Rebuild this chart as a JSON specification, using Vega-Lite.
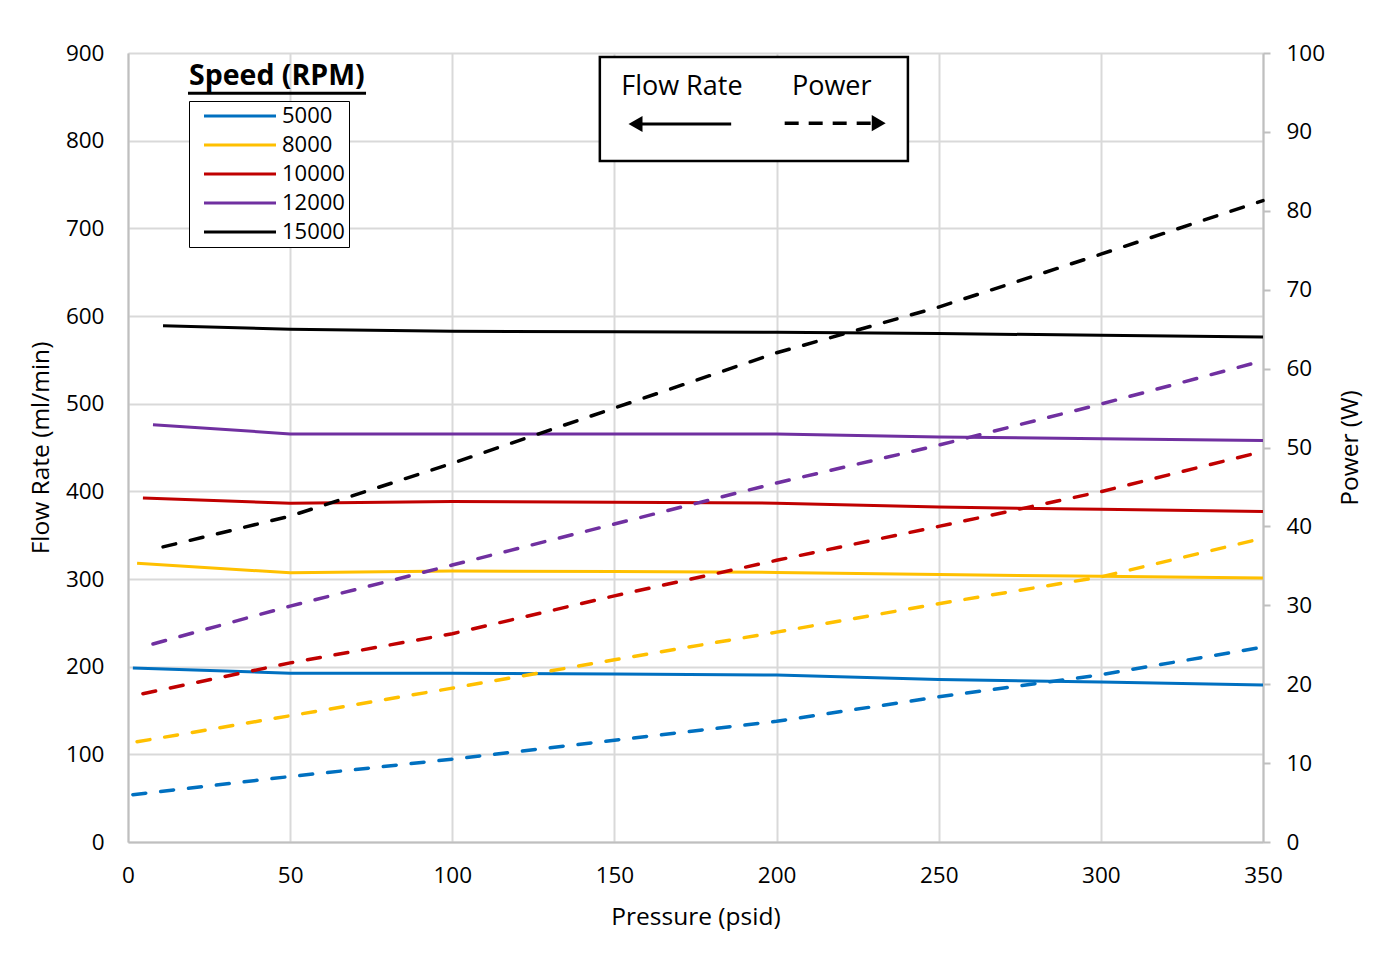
{
  "$schema": "https://vega.github.io/schema/vega-lite/v6.json",
  "width": 1135,
  "height": 789,
  "autosize": {"type": "none"},
  "padding": {"left": 128, "top": 53, "right": 121, "bottom": 112},
  "background": "white",
  "config": {
    "font": "Open Sans",
    "view": {"stroke": null},
    "axis": {
      "labelFont": "Open Sans",
      "titleFont": "Open Sans",
      "labelFontSize": 22.5,
      "titleFontSize": 24.5,
      "titleFontWeight": "normal",
      "labelColor": "#000000",
      "titleColor": "#000000",
      "domainColor": "#BFBFBF",
      "domainWidth": 2,
      "gridColor": "#D9D9D9",
      "gridWidth": 2,
      "labelFlush": false,
      "labelOverlap": false
    }
  },
  "datasets": {
    "perf": [
      {"speed": "5000", "pressure": 1.5, "flow": 198.5, "power": 6.0},
      {"speed": "5000", "pressure": 50, "flow": 192.5, "power": 8.3},
      {"speed": "5000", "pressure": 100, "flow": 192.5, "power": 10.5},
      {"speed": "5000", "pressure": 150, "flow": 191.5, "power": 12.9},
      {"speed": "5000", "pressure": 200, "flow": 190.5, "power": 15.3},
      {"speed": "5000", "pressure": 250, "flow": 185.5, "power": 18.4},
      {"speed": "5000", "pressure": 300, "flow": 182.5, "power": 21.2},
      {"speed": "5000", "pressure": 350, "flow": 179, "power": 24.7},
      {"speed": "8000", "pressure": 2.8, "flow": 318, "power": 12.7},
      {"speed": "8000", "pressure": 50, "flow": 307, "power": 16.0},
      {"speed": "8000", "pressure": 100, "flow": 309, "power": 19.5},
      {"speed": "8000", "pressure": 150, "flow": 308.5, "power": 23.1},
      {"speed": "8000", "pressure": 200, "flow": 307.5, "power": 26.6},
      {"speed": "8000", "pressure": 250, "flow": 305, "power": 30.2},
      {"speed": "8000", "pressure": 300, "flow": 303, "power": 33.6},
      {"speed": "8000", "pressure": 350, "flow": 301, "power": 38.5},
      {"speed": "10000", "pressure": 4.6, "flow": 392.5, "power": 18.8},
      {"speed": "10000", "pressure": 50, "flow": 386.5, "power": 22.7},
      {"speed": "10000", "pressure": 100, "flow": 388.5, "power": 26.4},
      {"speed": "10000", "pressure": 150, "flow": 387.5, "power": 31.2},
      {"speed": "10000", "pressure": 200, "flow": 386.5, "power": 35.7},
      {"speed": "10000", "pressure": 250, "flow": 382, "power": 40.0},
      {"speed": "10000", "pressure": 300, "flow": 379.5, "power": 44.4},
      {"speed": "10000", "pressure": 350, "flow": 377, "power": 49.5},
      {"speed": "12000", "pressure": 7.7, "flow": 476, "power": 25.1},
      {"speed": "12000", "pressure": 50, "flow": 465.5, "power": 29.9},
      {"speed": "12000", "pressure": 100, "flow": 465.5, "power": 35.1},
      {"speed": "12000", "pressure": 150, "flow": 465.5, "power": 40.3},
      {"speed": "12000", "pressure": 200, "flow": 465.5, "power": 45.5},
      {"speed": "12000", "pressure": 250, "flow": 462, "power": 50.3},
      {"speed": "12000", "pressure": 300, "flow": 460, "power": 55.5},
      {"speed": "12000", "pressure": 350, "flow": 458, "power": 61.0},
      {"speed": "15000", "pressure": 10.8, "flow": 589, "power": 37.4},
      {"speed": "15000", "pressure": 50, "flow": 585, "power": 41.3},
      {"speed": "15000", "pressure": 100, "flow": 582.5, "power": 48.0},
      {"speed": "15000", "pressure": 150, "flow": 582, "power": 55.0},
      {"speed": "15000", "pressure": 200, "flow": 581.5, "power": 62.0},
      {"speed": "15000", "pressure": 250, "flow": 580, "power": 67.8},
      {"speed": "15000", "pressure": 300, "flow": 578, "power": 74.5},
      {"speed": "15000", "pressure": 350, "flow": 576, "power": 81.3}
    ],
    "box": [
      {"pressure": 145.5, "pressure2": 240.5, "flow": 895.4, "flow2": 776.8}
    ],
    "texts": [
      {"label": "Flow Rate", "pressure": 170.8, "flow": 861, "kind": "plain"},
      {"label": "Power", "pressure": 217, "flow": 861, "kind": "plain"},
      {"label": "Speed (RPM)", "pressure": 45.9, "flow": 874, "kind": "bold"}
    ],
    "arrows": [
      {"pressure": 157, "pressure2": 186, "flow": 819, "kind": "flow"},
      {"pressure": 202.5, "pressure2": 230, "flow": 820, "kind": "power"},
      {"pressure": 18.5, "pressure2": 73.4, "flow": 854, "kind": "underline"}
    ],
    "heads": [
      {"pressure": 156.5, "flow": 819, "dir": "left"},
      {"pressure": 231.5, "flow": 820, "dir": "right"}
    ]
  },
  "layer": [
    {
      "layer": [
        {
          "data": {"name": "perf"},
          "mark": {"type": "line", "strokeWidth": 3},
          "encoding": {
            "x": {
              "field": "pressure", "type": "quantitative",
              "scale": {"domain": [0, 350], "nice": false},
              "axis": {"title": "Pressure (psid)", "values": [0, 50, 100, 150, 200, 250, 300, 350], "ticks": false, "labelPadding": 22, "titlePadding": 19, "grid": true}
            },
            "y": {
              "field": "flow", "type": "quantitative",
              "scale": {"domain": [0, 900], "nice": false},
              "axis": {"title": "Flow Rate (ml/min)", "values": [0, 100, 200, 300, 400, 500, 600, 700, 800, 900], "ticks": false, "labelPadding": 24, "titlePadding": 12, "grid": true}
            },
            "color": {
              "field": "speed", "type": "nominal",
              "sort": ["5000", "8000", "10000", "12000", "15000"],
              "scale": {"domain": ["5000", "8000", "10000", "12000", "15000"], "range": ["#0070C0", "#FFC000", "#C00000", "#7030A0", "#000000"]},
              "legend": {
                "title": null,
                "orient": "none",
                "legendX": 61,
                "legendY": 48,
                "fillColor": "white",
                "strokeColor": "black",
                "padding": 4,
                "symbolType": "M-1,0H8",
                "symbolSize": 256,
                "symbolOffset": 8,
                "symbolStrokeWidth": 3,
                "labelOffset": 59,
                "labelFontSize": 22,
                "labelFont": "Open Sans",
                "labelColor": "#000000",
                "rowPadding": 7
              }
            },
            "detail": {"field": "speed"}
          }
        },
        {
          "data": {"name": "box"},
          "mark": {"type": "rect", "fill": "white", "stroke": "black", "strokeWidth": 2.5},
          "encoding": {
            "x": {"field": "pressure", "type": "quantitative"},
            "x2": {"field": "pressure2"},
            "y": {"field": "flow", "type": "quantitative"},
            "y2": {"field": "flow2"}
          }
        },
        {
          "data": {"name": "texts"},
          "transform": [{"filter": "datum.kind === 'plain'"}],
          "mark": {"type": "text", "font": "Open Sans", "fontSize": 27, "align": "center", "baseline": "middle", "color": "black"},
          "encoding": {
            "x": {"field": "pressure", "type": "quantitative"},
            "y": {"field": "flow", "type": "quantitative"},
            "text": {"field": "label"}
          }
        },
        {
          "data": {"name": "texts"},
          "transform": [{"filter": "datum.kind === 'bold'"}],
          "mark": {"type": "text", "font": "Open Sans", "fontSize": 28.5, "fontWeight": "bold", "align": "center", "baseline": "middle", "color": "black"},
          "encoding": {
            "x": {"field": "pressure", "type": "quantitative"},
            "y": {"field": "flow", "type": "quantitative"},
            "text": {"field": "label"}
          }
        },
        {
          "data": {"name": "arrows"},
          "transform": [{"filter": "datum.kind !== 'power'"}],
          "mark": {"type": "rule", "color": "black", "strokeWidth": 3},
          "encoding": {
            "x": {"field": "pressure", "type": "quantitative"},
            "x2": {"field": "pressure2"},
            "y": {"field": "flow", "type": "quantitative"}
          }
        },
        {
          "data": {"name": "arrows"},
          "transform": [{"filter": "datum.kind === 'power'"}],
          "mark": {"type": "rule", "color": "black", "strokeWidth": 3.5, "strokeDash": [14, 10]},
          "encoding": {
            "x": {"field": "pressure", "type": "quantitative"},
            "x2": {"field": "pressure2"},
            "y": {"field": "flow", "type": "quantitative"}
          }
        },
        {
          "data": {"name": "heads"},
          "transform": [{"filter": "datum.dir === 'left'"}],
          "mark": {"type": "point", "shape": "triangle-left", "filled": true, "color": "black", "size": 260, "opacity": 1},
          "encoding": {
            "x": {"field": "pressure", "type": "quantitative"},
            "y": {"field": "flow", "type": "quantitative"}
          }
        },
        {
          "data": {"name": "heads"},
          "transform": [{"filter": "datum.dir === 'right'"}],
          "mark": {"type": "point", "shape": "triangle-right", "filled": true, "color": "black", "size": 260, "opacity": 1},
          "encoding": {
            "x": {"field": "pressure", "type": "quantitative"},
            "y": {"field": "flow", "type": "quantitative"}
          }
        }
      ]
    },
    {
      "data": {"name": "perf"},
      "mark": {"type": "line", "strokeWidth": 3.5, "strokeDash": [13, 15], "strokeCap": "round"},
      "encoding": {
        "x": {"field": "pressure", "type": "quantitative"},
        "y": {
          "field": "power", "type": "quantitative",
          "scale": {"domain": [0, 100], "nice": false},
          "axis": {"title": "Power (W)", "orient": "right", "values": [0, 10, 20, 30, 40, 50, 60, 70, 80, 90, 100], "grid": false, "ticks": true, "tickSize": 7, "tickColor": "#BFBFBF", "tickWidth": 2, "labelPadding": 16, "titlePadding": 38, "titleAngle": 270}
        },
        "color": {"field": "speed", "type": "nominal", "sort": ["5000", "8000", "10000", "12000", "15000"]},
        "detail": {"field": "speed"}
      }
    }
  ],
  "resolve": {"scale": {"y": "independent"}}
}
